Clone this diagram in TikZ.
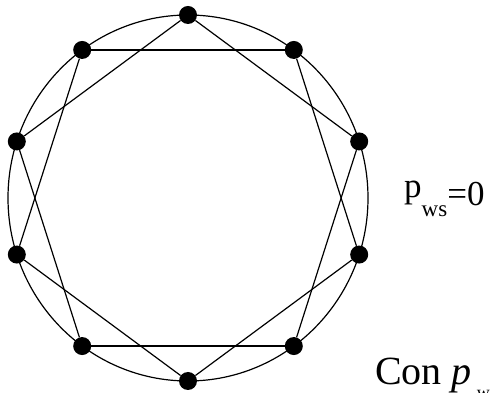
\documentclass[tikz,border=0pt]{standalone}
\usepackage{fontspec}
\usepackage{tikz}
\newfontfamily\labelserif{Liberation Serif}

\begin{document}
\begin{tikzpicture}[
    x=1pt,
    y=1pt,
    vertex/.style={
        circle,
        fill=black,
        inner sep=0pt,
        minimum size=18pt
    },
    ring/.style={
        line width=1.2pt
    },
    edge/.style={
        line width=1.2pt
    }
]

\useasboundingbox (0,0) rectangle (490,393);

% ---------------- RING ----------------
\draw[ring] (188,195) ellipse [x radius=180, y radius=183];

% ---------------- VERTICES ----------------
\begin{scope}[shift={(188,195)}]
\node[vertex] (v1) at (90:180 and 183) {};
\node[vertex] (v2) at (54:180 and 183) {};
\node[vertex] (v3) at (18:180 and 183) {};
\node[vertex] (v4) at (-18:180 and 183) {};
\node[vertex] (v5) at (-54:180 and 183) {};
\node[vertex] (v6) at (-90:180 and 183) {};
\node[vertex] (v7) at (-126:180 and 183) {};
\node[vertex] (v8) at (-162:180 and 183) {};
\node[vertex] (v9) at (162:180 and 183) {};
\node[vertex] (v10) at (126:180 and 183) {};
\end{scope}

% ---------------- LABELS ----------------
\node[anchor=base west, inner sep=0pt,
      font=\labelserif\fontsize{35}{35}\selectfont] (pws) at (404,195)
    {p\raisebox{-19pt}{\fontsize{23}{23}\selectfont ws}\raisebox{-8pt}{=0}};

\node[anchor=base west, inner sep=0pt,
      font=\labelserif\fontsize{40}{40}\selectfont] (con) at (375,8)
    {Con \textit{p}\hspace{5pt}\raisebox{-14pt}{\fontsize{18}{18}\selectfont w}};

% ---------------- EDGES ----------------
\draw[edge] (v1) -- (v3);
\draw[edge] (v2) -- (v4);
\draw[edge] (v3) -- (v5);
\draw[edge] (v4) -- (v6);
\draw[edge] (v5) -- (v7);
\draw[edge] (v6) -- (v8);
\draw[edge] (v7) -- (v9);
\draw[edge] (v8) -- (v10);
\draw[edge] (v9) -- (v1);
\draw[edge] (v10) -- (v2);

\end{tikzpicture}
\end{document}
